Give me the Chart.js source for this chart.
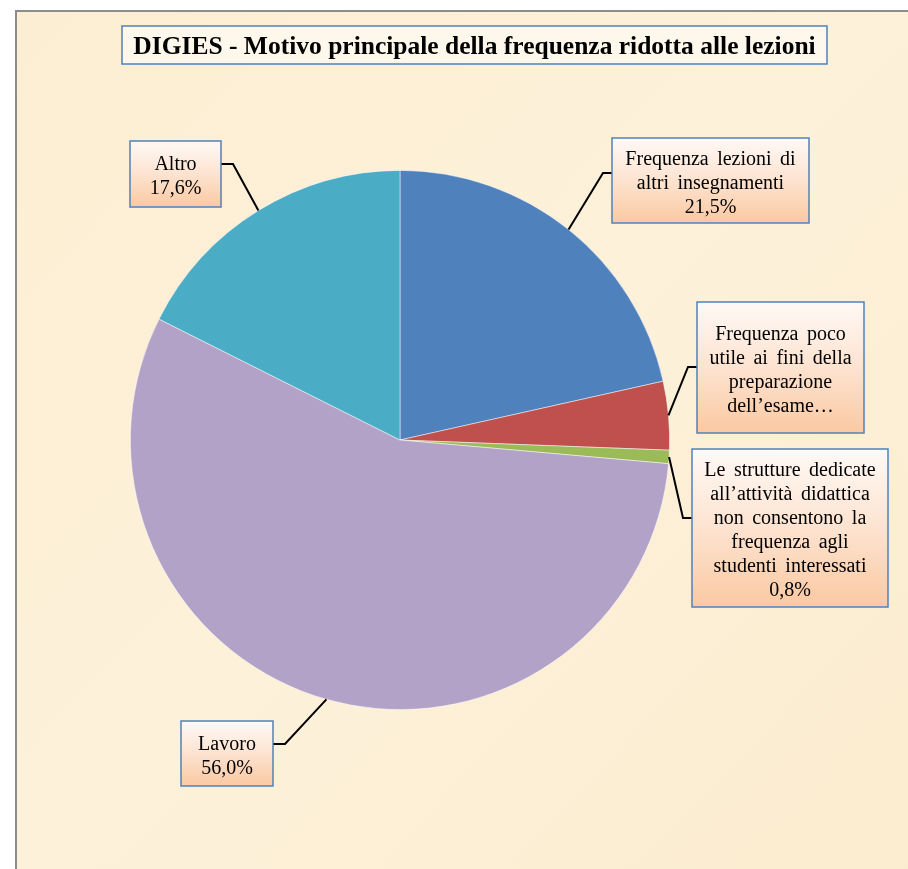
<!DOCTYPE html>
<html>
<head>
<meta charset="utf-8">
<script src="https://cdn.jsdelivr.net/npm/chart.js@4/dist/chart.umd.min.js"></script>
<style>
  html, body { margin: 0; padding: 0; background: #ffffff; }
  #wrap { width: 908px; height: 869px; position: relative; }
</style>
</head>
<body>
<div id="wrap"><canvas id="c" width="908" height="869"></canvas></div>
<script>
// ---- data ----
const titleText = 'DIGIES - Motivo principale della frequenza ridotta alle lezioni';
const categories = [
  ['Frequenza lezioni di', 'altri insegnamenti'],
  ['Frequenza poco', 'utile ai fini della', 'preparazione', 'dell\u2019esame\u2026'],
  ['Le strutture dedicate', 'all\u2019attivit\u00e0 didattica', 'non consentono la', 'frequenza agli', 'studenti interessati'],
  ['Lavoro'],
  ['Altro']
];
const values = [21.5, 4.1, 0.8, 56.0, 17.6];
const showValue = [true, false, true, true, true];
const colors = ['#4F81BD', '#C0504D', '#9BBB59', '#B2A2C7', '#4BACC6'];

// ---- layout (label boxes) ----
const labelBoxes = [
  { x: 612, y: 138, w: 197, h: 85,  ay: 173, side: 'left'  },
  { x: 697, y: 302, w: 167, h: 131, ay: 367, side: 'left'  },
  { x: 692, y: 449, w: 196, h: 158, ay: 518, side: 'left'  },
  { x: 181, y: 721, w: 92,  h: 65,  ay: 744, side: 'right' },
  { x: 130, y: 141, w: 91,  h: 66,  ay: 164, side: 'right' }
];

function fmt(v) { return v.toFixed(1).replace('.', ',') + '%'; }

const decor = {
  id: 'decor',
  beforeDraw(chart) {
    const ctx = chart.ctx;
    ctx.save();
    ctx.fillStyle = '#ffffff';
    ctx.fillRect(0, 0, chart.width, chart.height);
    const g = ctx.createLinearGradient(0, 0, chart.width, chart.height);
    g.addColorStop(0, '#FCEED2');
    g.addColorStop(0.5, '#FDF1DA');
    g.addColorStop(1, '#FBECCF');
    ctx.fillStyle = g;
    ctx.fillRect(16, 11, chart.width - 16, chart.height - 11);
    ctx.strokeStyle = '#8C8C8C';
    ctx.lineWidth = 2;
    ctx.beginPath();
    ctx.moveTo(16, chart.height + 2);
    ctx.lineTo(16, 11);
    ctx.lineTo(chart.width + 2, 11);
    ctx.stroke();
    // title box
    ctx.fillStyle = '#FEF8EC';
    ctx.fillRect(122, 26, 705, 38);
    ctx.strokeStyle = '#4F81BD';
    ctx.lineWidth = 1.5;
    ctx.strokeRect(122, 26, 705, 38);
    ctx.fillStyle = '#000000';
    ctx.font = 'bold 25.5px "Liberation Serif", "Times New Roman", serif';
    ctx.textAlign = 'center';
    ctx.textBaseline = 'alphabetic';
    ctx.fillText(titleText, 474.5, 54);
    ctx.restore();
  },
  afterDatasetsDraw(chart) {
    const ctx = chart.ctx;
    const meta = chart.getDatasetMeta(0);
    ctx.save();
    meta.data.forEach((arc, i) => {
      const b = labelBoxes[i];
      const mid = (arc.startAngle + arc.endAngle) / 2;
      const ex = arc.x + Math.cos(mid) * arc.outerRadius;
      const ey = arc.y + Math.sin(mid) * arc.outerRadius;
      const bx = b.side === 'left' ? b.x : b.x + b.w;
      const elx = b.side === 'left' ? b.x - 9 : b.x + b.w + 12;
      ctx.strokeStyle = '#000000';
      ctx.lineWidth = 2;
      ctx.beginPath();
      ctx.moveTo(ex, ey);
      ctx.lineTo(elx, b.ay);
      ctx.lineTo(bx, b.ay);
      ctx.stroke();
    });
    meta.data.forEach((arc, i) => {
      const b = labelBoxes[i];
      const gr = ctx.createLinearGradient(0, b.y, 0, b.y + b.h);
      gr.addColorStop(0, '#FFF9F6');
      gr.addColorStop(0.5, '#FDE3D0');
      gr.addColorStop(1, '#FAC9A2');
      ctx.fillStyle = gr;
      ctx.fillRect(b.x, b.y, b.w, b.h);
      ctx.strokeStyle = '#4F81BD';
      ctx.lineWidth = 1.5;
      ctx.strokeRect(b.x, b.y, b.w, b.h);
      const lines = categories[i].slice();
      if (showValue[i]) lines.push(fmt(values[i]));
      ctx.fillStyle = '#000000';
      ctx.font = '20px "Liberation Serif", "Times New Roman", serif';
      try { ctx.wordSpacing = '3.5px'; } catch (e) {}
      ctx.textAlign = 'center';
      ctx.textBaseline = 'alphabetic';
      const lh = 24;
      const cy = b.y + b.h / 2;
      const cx = b.x + b.w / 2;
      lines.forEach((t, k) => {
        ctx.fillText(t, cx, cy + (k - (lines.length - 1) / 2) * lh + 8);
      });
    });
    ctx.restore();
  }
};

new Chart(document.getElementById('c'), {
  type: 'pie',
  data: {
    labels: categories,
    datasets: [{
      data: values,
      backgroundColor: colors,
      borderColor: 'rgba(255,255,255,0.6)',
      borderWidth: 0.8
    }]
  },
  options: {
    responsive: false,
    animation: false,
    layout: { padding: { left: 130, right: 238, top: 170, bottom: 159 } },
    plugins: {
      legend: { display: false },
      title: { display: false },
      tooltip: { enabled: false }
    }
  },
  plugins: [decor]
});
</script>
</body>
</html>
